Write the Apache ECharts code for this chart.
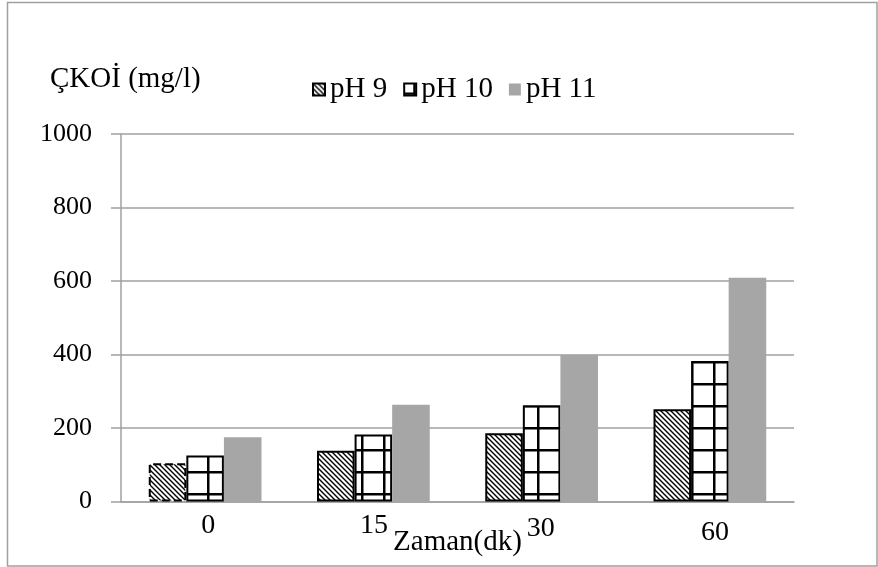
<!DOCTYPE html>
<html>
<head>
<meta charset="utf-8">
<script src="https://cdn.jsdelivr.net/npm/echarts@6/dist/echarts.min.js"></script>
<style>
html,body{margin:0;padding:0;background:#fff;}
#chart{width:878px;height:567px;}
</style>
</head>
<body>
<div id="chart"></div>
<script>
// ---- data ----
const categories = ['0', '15', '30', '60'];
const seriesNames = ['pH 9', 'pH 10', 'pH 11'];
const pH9 = [104, 138, 186, 251];
const pH10 = [125, 182, 262, 382];
const pH11 = [175, 263, 399, 609];
const yTicks = [0, 200, 400, 600, 800, 1000];
const yAxisTitle = 'ÇKOİ (mg/l)';
const xAxisTitle = 'Zaman(dk)';

const FONT = '"Liberation Serif", "Times New Roman", serif';

function hatchPattern() {
  const s = 5;
  const c = document.createElement('canvas');
  c.width = s; c.height = s;
  const g = c.getContext('2d');
  g.fillStyle = '#fff'; g.fillRect(0, 0, s, s);
  g.strokeStyle = '#000'; g.lineWidth = 1.4;
  g.beginPath();
  g.moveTo(-1, -1); g.lineTo(s + 1, s + 1);
  g.moveTo(-1, s - 1); g.lineTo(1, s + 1);
  g.moveTo(s - 1, -1); g.lineTo(s + 1, 1);
  g.stroke();
  return c;
}
function gridPattern() {
  const s = 22;
  const c = document.createElement('canvas');
  c.width = s; c.height = s;
  const g = c.getContext('2d');
  g.fillStyle = '#fff'; g.fillRect(0, 0, s, s);
  g.fillStyle = '#000';
  g.fillRect(9, 0, 2.5, s);
  g.fillRect(0, 9, s, 2.5);
  return c;
}

// small per-label nudges mimicking the original's label placement (style only)
const labelRich = {
  l0: {padding: [0, 0, 0, 6]},
  l1: {padding: [0, 0, 0, 1]},
  l2: {padding: [3, 2, 0, 0]},
  l3: {padding: [7, 0, 0, 10]}
};
Object.keys(labelRich).forEach(k => Object.assign(labelRich[k], {fontFamily: FONT, fontSize: 28, color: '#000'}));

const chart = echarts.init(document.getElementById('chart'), null, {renderer: 'canvas'});
const commonBar = {type: 'bar', barGap: '0%', barCategoryGap: '33%'};

chart.setOption({
  animation: false,
  backgroundColor: '#fff',
  title: {
    text: yAxisTitle,
    left: 45, top: 60,
    textStyle: {fontFamily: FONT, fontSize: 29, fontWeight: 'normal', color: '#000'}
  },
  legend: {
    data: seriesNames,
    left: 307, top: 70,
    itemWidth: 12, itemHeight: 12, itemGap: 16,
    icon: 'rect',
    textStyle: {fontFamily: FONT, fontSize: 29, color: '#000'}
  },
  grid: {left: 121, right: 84, top: 134, bottom: 65.5, containLabel: false, outerBoundsMode: 'none'},
  xAxis: {
    type: 'category',
    data: categories,
    name: xAxisTitle,
    nameLocation: 'middle',
    nameGap: 26,
    nameMoveOverlap: false,
    nameTextStyle: {fontFamily: FONT, fontSize: 29, color: '#000'},
    axisLine: {lineStyle: {color: '#a0a0a0', width: 1.5}},
    axisTick: {show: false},
    axisLabel: {
      fontFamily: FONT, fontSize: 28, color: '#000', margin: 10,
      formatter: (v, i) => '{l' + i + '|' + v + '}',
      rich: labelRich
    }
  },
  yAxis: {
    type: 'value',
    min: yTicks[0], max: yTicks[yTicks.length - 1], interval: yTicks[1] - yTicks[0],
    axisLine: {show: true, lineStyle: {color: '#a0a0a0', width: 1.5}},
    axisTick: {show: true, length: 10, lineStyle: {color: '#a0a0a0', width: 1.5}},
    splitLine: {lineStyle: {color: '#a0a0a0', width: 1.5}},
    axisLabel: {fontFamily: FONT, fontSize: 26, color: '#000', margin: 29, formatter: v => String(v)}
  },
  series: [
    Object.assign({}, commonBar, {
      name: seriesNames[0],
      itemStyle: {color: {image: hatchPattern(), repeat: 'repeat'}, borderColor: '#000', borderWidth: 2},
      data: pH9.map((v, i) => i === 0 ? {value: v, itemStyle: {borderType: 'dashed'}} : v)
    }),
    Object.assign({}, commonBar, {
      name: seriesNames[1],
      itemStyle: {color: {image: gridPattern(), repeat: 'repeat'}, borderColor: '#000', borderWidth: 2},
      data: pH10
    }),
    Object.assign({}, commonBar, {
      name: seriesNames[2],
      itemStyle: {color: '#a6a6a6'},
      data: pH11
    })
  ],
  graphic: [{
    type: 'rect',
    shape: {x: 7.5, y: 2.5, width: 869.5, height: 563.5},
    style: {fill: 'none', stroke: '#a0a0a0', lineWidth: 1.5},
    silent: true
  }]
});
</script>
</body>
</html>
